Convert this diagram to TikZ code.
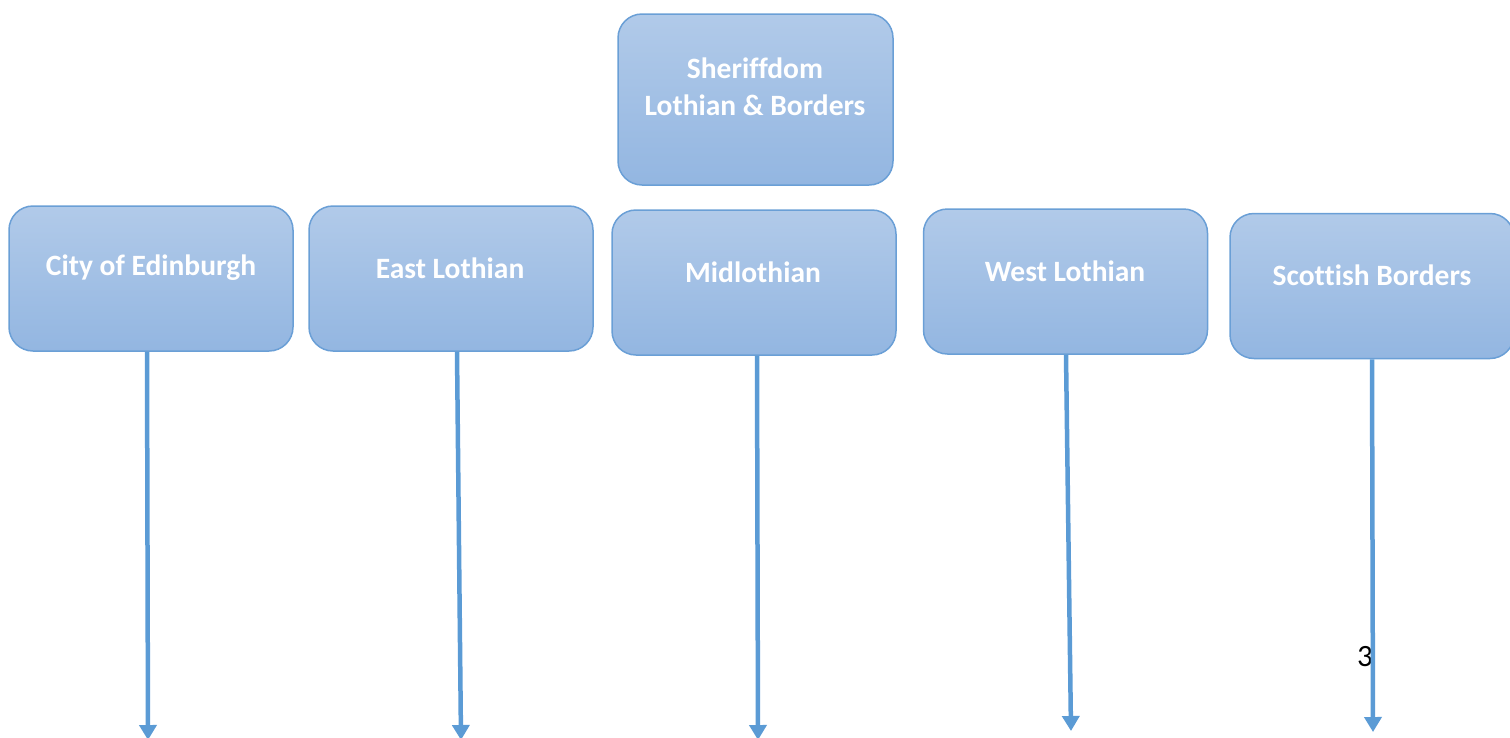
\documentclass[tikz,border=0pt]{standalone}
\usepackage{fontspec}
\setmainfont[Ligatures={NoCommon}]{Carlito}
\usetikzlibrary{arrows.meta}
\definecolor{boxtop}{HTML}{B1CAE9}
\definecolor{boxbot}{HTML}{93B6E1}
\definecolor{boxline}{HTML}{6A9FD6}
\definecolor{arrowc}{HTML}{5B9BD5}
\begin{document}
\begin{tikzpicture}[x=1pt,y=-1pt,
  box/.style={draw=boxline, line width=1.5pt, rounded corners=24pt,
    top color=boxtop, bottom color=boxbot, minimum width=284pt, minimum height=145pt,
    inner sep=0pt},
  lbl/.style={text=white, font=\bfseries\fontsize{29.5}{37}\selectfont, align=center},
  conn/.style={draw=arrowc, line width=4.5pt, -{Triangle[width=17pt,length=15pt]}}]
\useasboundingbox (0,0) rectangle (1510,737);
% boxes
\node[box, minimum width=275pt, minimum height=171pt] (sh) at (755.5,99.5) {};
\node[box] (ce) at (151,278.5) {};
\node[box] (el) at (451,278.5) {};
\node[box] (ml) at (754,282.5) {};
\node[box] (wl) at (1065.5,281.5) {};
\node[box] (sb) at (1372,286) {};
% labels
\node[lbl] (tsh) at (755,87) {Sheriffdom\\Lothian \& Borders};
\node[lbl] (tce) at (151,268) {City of Edinburgh};
\node[lbl] (tel) at (450,268) {East Lothian};
\node[lbl] (tml) at (753,272) {Midlothian};
\node[lbl] (twl) at (1065,271) {West Lothian};
\node[lbl] (tsb) at (1372,275) {Scottish Borders};
\node[font=\fontsize{31}{33}\selectfont] (num) at (1365,657) {3};
% arrow ends
\coordinate (e1) at (148,740);
\coordinate (e2) at (461,740);
\coordinate (e3) at (758,740);
\coordinate (e4) at (1071,731);
\coordinate (e5) at (1373,732);
\draw[conn] (ce.south -| 147,0) -- (e1);
\draw[conn] (el.south -| 457,0) -- (e2);
\draw[conn] (ml.south -| 757,0) -- (e3);
\draw[conn] (wl.south -| 1066,0) -- (e4);
\draw[conn] (sb.south -| 1372,0) -- (e5);
\end{tikzpicture}
\end{document}
